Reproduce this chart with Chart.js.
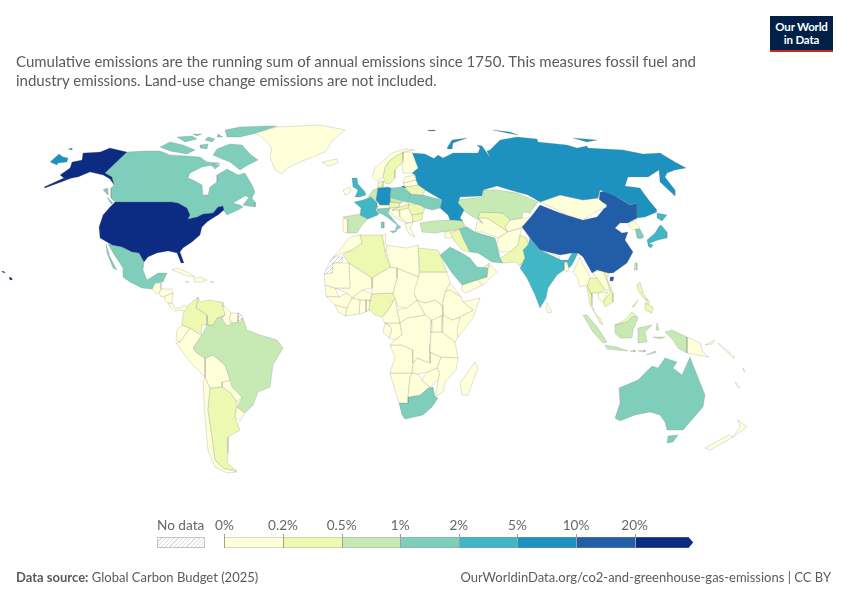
<!DOCTYPE html>
<html>
<head>
<meta charset="utf-8">
<title>Cumulative CO2 emissions</title>
<script src="https://cdn.jsdelivr.net/npm/chart.js@4"></script>
<style>
  body { margin: 0; background: #fff; font-family: Lato, sans-serif; color: #5b5b5b; }
  #wrap { position: relative; width: 850px; height: 600px; overflow: hidden; }
  #map { position: absolute; left: 0; top: 0; }
  .txt { position: absolute; white-space: nowrap; }
  #logo { position: absolute; left: 770px; top: 16px; width: 63px; height: 36px; background: #002147; border-bottom: 2px solid #ce261e; box-sizing: border-box;
    color: #fff; font-weight: 700; font-size: 11.5px; line-height: 13px; text-align: center; padding-top: 4px; letter-spacing: -0.2px; }
  .cell { position: absolute; top: 537px; height: 11px; box-sizing: border-box; border-top: 1px solid rgba(150,150,150,.35); border-bottom: 1px solid rgba(150,150,150,.35); }
  .tick { position: absolute; top: 534px; height: 14px; width: 1px; background: #a0a0a0; }
  .lab { position: absolute; top: 517px; font-size: 13.6px; transform: translateX(-50%); white-space: nowrap; color: #666; }
</style>
</head>
<body>
<div id="wrap">
  <canvas id="map" width="850" height="600"></canvas>
  <div id="logo">Our World<br>in Data</div>
  <div class="txt" style="left:16px;top:52px;font-size:15px;line-height:19px">Cumulative emissions are the running sum of annual emissions since 1750. This measures fossil fuel and<br>industry emissions. Land-use change emissions are not included.</div>
  <div class="txt" style="left:16px;top:569px;font-size:13px"><b>Data source:</b> Global Carbon Budget (2025)</div>
  <div class="txt" style="right:19px;top:569px;font-size:13px">OurWorldinData.org/co2-and-greenhouse-gas-emissions | CC BY</div>
  <div class="txt" style="left:157px;top:517px;font-size:13.6px;color:#666">No data</div>
  <div style="position:absolute;left:157px;top:537px;width:48px;height:11px;box-sizing:border-box;border:1px solid #c4c4c4;background:repeating-linear-gradient(135deg,#fff 0 2px,#dcdcdc 2px 3px)"></div>
</div>
<script>
// legend bins
const tickLabels = ['0%', '0.2%', '0.5%', '1%', '2%', '5%', '10%', '20%'];
const binStarts = [0, 0.2, 0.5, 1, 2, 5, 10, 20];
const binColors = ['#ffffd9', '#edf8b1', '#c7e9b4', '#7fcdbb', '#41b6c4', '#1d91c0', '#225ea8', '#0c2c84'];

const countries = ['United States', 'Canada', 'Mexico', 'Greenland', 'Iceland', 'Guatemala', 'Honduras', 'Nicaragua', 'Panama', 'Cuba', 'Hispaniola', 'Jamaica', 'Puerto Rico',
  'Colombia', 'Venezuela', 'Guyana', 'Suriname', 'French Guiana', 'Brazil', 'Ecuador', 'Peru', 'Bolivia', 'Paraguay', 'Uruguay', 'Argentina', 'Chile',
  'Morocco', 'Western Sahara', 'Algeria', 'Tunisia', 'Libya', 'Egypt', 'Sudan', 'Mauritania', 'Mali', 'Niger', 'Chad', 'Nigeria', 'Senegal', 'Guinea', 'Liberia', 'Ivory Coast', 'Burkina Faso', 'Ghana', 'Benin',
  'Cameroon', 'Central African Rep.', 'South Sudan', 'Ethiopia', 'Somalia', 'Eritrea', 'Kenya', 'Uganda', 'Tanzania', 'DR Congo', 'Congo', 'Gabon', 'Angola', 'Zambia', 'Mozambique', 'Zimbabwe', 'Botswana', 'Namibia', 'South Africa', 'Lesotho', 'Madagascar',
  'United Kingdom', 'Ireland', 'France', 'Spain', 'Portugal', 'Germany', 'Benelux', 'Poland', 'Czechia', 'Austria', 'Italy', 'Switzerland', 'Denmark', 'Norway', 'Sweden', 'Finland', 'Estonia', 'Lithuania', 'Belarus', 'Ukraine', 'Slovakia', 'Hungary', 'Romania', 'Bulgaria', 'Serbia', 'Croatia', 'Greece', 'Turkey',
  'Russia', 'Kazakhstan', 'Mongolia', 'China', 'India', 'Nepal', 'Bangladesh', 'Sri Lanka', 'Pakistan', 'Afghanistan', 'Iran', 'Iraq', 'Syria', 'Saudi Arabia', 'Yemen', 'Oman', 'UAE', 'Uzbekistan', 'Turkmenistan', 'Kyrgyzstan', 'Azerbaijan',
  'North Korea', 'South Korea', 'Japan', 'Taiwan', 'Myanmar', 'Thailand', 'Laos', 'Vietnam', 'Cambodia', 'Malaysia', 'Indonesia', 'Philippines', 'Papua New Guinea', 'Australia', 'New Zealand', 'Pacific islands'];

// share of global cumulative CO2, %
const shares = [24.3, 1.9, 1.3, 0.01, 0.02, 0.03, 0.03, 0.02, 0.03, 0.15, 0.1, 0.03, 0.1,
  0.2, 0.45, 0.02, 0.02, null, 0.7, 0.08, 0.12, 0.05, 0.02, 0.03, 0.4, 0.18,
  0.12, null, 0.27, 0.06, 0.15, 0.25, 0.04, 0.01, 0.01, 0.01, 0.01, 0.22, 0.02, 0.01, 0.01, 0.02, 0.01, 0.03, 0.01,
  0.02, 0.01, 0.01, 0.02, 0.01, 0.01, 0.03, 0.01, 0.02, 0.03, 0.01, 0.02, 0.05, 0.03, 0.02, 0.06, 0.02, 0.01, 1.3, 0.01, 0.01,
  4.5, 0.1, 2.2, 0.95, 0.1, 5.2, 0.8, 1.6, 0.8, 0.25, 1.4, 0.1, 0.2, 0.15, 0.3, 0.15, 0.08, 0.1, 0.3, 1.5, 0.15, 0.2, 0.35, 0.2, 0.15, 0.1, 0.15, 0.7,
  6.6, 0.9, 0.05, 14.8, 3.2, 0.01, 0.08, 0.02, 0.3, 0.02, 1.1, 0.35, 0.1, 1.2, 0.03, 0.1, 0.22, 0.25, 0.18, 0.04, 0.3,
  0.18, 1.1, 3.7, 0.7, 0.05, 0.4, 0.01, 0.4, 0.01, 0.3, 0.85, 0.2, 0.02, 1.2, 0.1, 0.01];

// map outlines, one line per country in the same order in map units
const outlines = [
  /* United States */ [[[115,202],[172,202],[178,203],[187,208],[190,215],[188,219],[197,217],[203,214],[213,213],[218,207],[223,206],[224,210],[218,215],[213,218],[207,222],[202,227],[200,235],[192,242],[183,248],[180,252],[184,263],[181,263],[177,253],[168,251],[157,253],[148,257],[144,262],[139,253],[132,252],[122,247],[112,245],[100,238],[99,227],[103,215],[110,207]],
    [[127,152],[105,173],[112,177],[114,185],[110,179],[103,175],[90,172],[78,177],[65,179],[60,175],[70,168],[72,162],[82,160],[83,153],[100,152],[110,148]], [[88,172],[72,178],[45,188],[44,187],[66,177]], [[9,277],[12,278],[12,280],[10,280]], [[2,271],[5,272],[5,273],[2,272]]],
  /* Canada */ [[[127,152],[105,173],[112,177],[114,185],[111,188],[111,198],[115,202],[172,202],[178,203],[187,208],[190,215],[188,219],[197,217],[203,214],[213,213],[218,207],[223,206],[224,211],[227,215],[238,210],[243,207],[240,205],[233,203],[245,196],[252,198],[255,192],[252,185],[245,173],[238,175],[227,169],[217,175],[217,182],[210,187],[208,195],[203,195],[202,185],[193,180],[188,178],[190,173],[202,167],[213,165],[220,163],[207,162],[200,157],[187,156],[170,155],[160,151],[145,151]],
    [[243,205],[250,196],[256,203],[255,207],[248,206]], [[103,190],[107,188],[108,195]], [[107,197],[113,203],[111,204]], [[217,149],[230,144],[242,145],[250,154],[258,160],[248,165],[240,170],[230,162],[222,159],[213,155]], [[160,147],[170,142],[183,145],[195,150],[187,154],[170,151]], [[225,130],[240,127],[268,126],[277,126],[253,134],[240,137],[227,137]], [[177,137],[192,136],[197,139],[185,142]], [[200,145],[208,144],[207,149],[200,148]], [[208,137],[215,139],[212,142],[205,140]], [[218,134],[223,137],[217,137]], [[193,134],[202,134],[197,136]], [[210,164],[220,165],[215,169]]],
  /* Mexico */ [[[112,245],[122,247],[132,252],[139,253],[144,262],[143,270],[147,280],[158,273],[167,273],[163,282],[155,283],[152,289],[142,288],[130,282],[123,277],[123,268],[115,256],[108,244]], [[106,244],[110,257],[117,270],[113,268],[107,253]]],
  /* Greenland */ [[[255,133],[277,127],[320,125],[345,130],[333,140],[325,152],[300,162],[287,168],[282,174],[275,170],[270,157],[272,148],[263,138]]],
  /* Iceland */ [[[322,162],[337,159],[338,163],[328,166]]],
  /* Guatemala */ [[[152,289],[157,283],[161,283],[161,289],[159,293],[156,294]]],
  /* Honduras */ [[[159,293],[161,289],[172,289],[173,293],[165,296],[161,297]]],
  /* Nicaragua */ [[[165,296],[173,293],[172,303],[168,303],[164,299]]],
  /* Panama */ [[[168,303],[172,303],[175,308],[180,308],[184,305],[188,308],[185,311],[180,310],[175,311],[170,307]]],
  /* Cuba */ [[[172,270],[177,268],[187,272],[195,277],[188,276],[180,273]]],
  /* Hispaniola */ [[[194,279],[200,277],[207,280],[202,282],[194,282]]],
  /* Jamaica */ [[[185,281],[189,282],[187,283]]],
  /* Puerto Rico */ [[[210,281],[214,282],[212,283]]],
  /* Colombia */ [[[185,308],[198,297],[196,308],[207,315],[207,325],[202,325],[201,335],[198,333],[190,328],[182,325],[183,315]]],
  /* Venezuela */ [[[198,297],[200,302],[208,300],[222,302],[223,307],[225,315],[217,318],[213,325],[208,325],[207,315],[196,308]]],
  /* Guyana */ [[[222,307],[225,306],[231,313],[229,318],[231,325],[226,325],[222,318],[225,315]]],
  /* Suriname */ [[[231,313],[238,313],[238,322],[233,323],[229,318]]],
  /* French Guiana */ [[[238,313],[243,316],[240,323],[238,322]]],
  /* Brazil */ [[[207,325],[213,325],[217,318],[225,315],[228,323],[237,322],[243,318],[247,330],[260,335],[277,340],[283,348],[273,365],[270,387],[258,392],[253,405],[245,413],[237,407],[242,397],[232,387],[225,365],[213,355],[205,358],[197,353],[193,348],[202,335]]],
  /* Ecuador */ [[[182,325],[190,328],[180,342],[176,340],[177,330]]],
  /* Peru */ [[[190,328],[198,333],[202,335],[193,348],[197,353],[205,358],[205,377],[190,362],[176,343],[180,342]]],
  /* Bolivia */ [[[205,358],[213,355],[225,365],[232,380],[222,382],[222,387],[210,388],[205,377]]],
  /* Paraguay */ [[[222,382],[232,380],[242,397],[237,402],[230,392],[222,387]]],
  /* Uruguay */ [[[237,407],[245,413],[240,421],[235,417]]],
  /* Argentina */ [[[210,388],[222,387],[230,392],[237,402],[235,417],[240,430],[228,437],[228,453],[227,463],[237,471],[223,468],[215,460],[212,437],[208,410]]],
  /* Chile */ [[[205,377],[210,388],[208,410],[212,437],[215,460],[223,468],[237,472],[227,473],[215,467],[208,450],[205,417],[203,383]]],
  /* Morocco */ [[[350,237],[360,235],[362,243],[352,250],[343,253],[333,257],[340,250],[345,243]]],
  /* Western Sahara */ [[[333,257],[343,257],[342,262],[333,263],[332,273],[324,274],[327,267]]],
  /* Algeria */ [[[360,235],[382,235],[385,252],[390,267],[372,278],[349,263],[343,255],[352,250],[362,243]]],
  /* Tunisia */ [[[382,235],[386,234],[385,243],[387,247],[385,252]]],
  /* Libya */ [[[385,245],[400,247],[407,248],[418,245],[419,277],[397,268],[390,267]]],
  /* Egypt */ [[[418,248],[438,250],[447,272],[420,272]]],
  /* Sudan */ [[[420,272],[447,272],[450,283],[445,292],[442,305],[435,300],[425,303],[417,300],[414,293],[418,278]]],
  /* Mauritania */ [[[324,274],[332,273],[333,263],[349,263],[350,288],[335,288],[325,285]]],
  /* Mali */ [[[349,263],[372,278],[372,288],[362,290],[352,298],[347,293],[335,288],[350,288]]],
  /* Niger */ [[[372,278],[390,267],[397,268],[397,278],[393,293],[372,294],[372,288]]],
  /* Chad */ [[[397,268],[419,277],[418,287],[414,293],[417,300],[407,308],[398,307],[393,293],[397,278]]],
  /* Nigeria */ [[[372,294],[393,293],[395,298],[388,310],[382,317],[375,315],[369,310],[370,302]]],
  /* Senegal */ [[[325,285],[335,288],[339,297],[326,296]]],
  /* Guinea */ [[[326,296],[339,297],[347,293],[352,298],[347,308],[335,305]]],
  /* Liberia */ [[[335,305],[347,308],[345,316],[338,312]]],
  /* Ivory Coast */ [[[347,308],[352,298],[360,300],[359,314],[345,316]]],
  /* Burkina Faso */ [[[352,298],[362,290],[372,294],[370,300],[360,300]]],
  /* Ghana */ [[[360,300],[366,300],[366,312],[359,314]]],
  /* Benin */ [[[366,300],[370,300],[370,302],[369,310],[366,312]]],
  /* Cameroon */ [[[388,310],[395,298],[397,310],[400,323],[385,323],[382,318]]],
  /* Central African Rep. */ [[[397,310],[407,308],[417,300],[425,315],[407,318],[400,323]]],
  /* South Sudan */ [[[417,300],[425,303],[435,300],[442,305],[443,315],[432,320],[425,315]]],
  /* Ethiopia */ [[[442,305],[445,292],[450,290],[461,297],[463,302],[473,310],[460,317],[452,320],[443,315]]],
  /* Somalia */ [[[463,302],[480,298],[473,318],[458,337],[457,330],[460,317],[473,310]]],
  /* Eritrea */ [[[445,292],[450,283],[461,297],[450,290]]],
  /* Kenya */ [[[443,315],[452,320],[460,317],[458,337],[455,342],[442,332]]],
  /* Uganda */ [[[432,320],[443,315],[442,332],[431,332]]],
  /* Tanzania */ [[[431,332],[442,332],[455,342],[458,358],[441,357],[430,352]]],
  /* DR Congo */ [[[407,318],[425,315],[432,320],[431,332],[430,345],[430,352],[430,363],[417,358],[413,363],[413,350],[402,345],[390,345],[395,340],[402,335],[400,323]]],
  /* Congo */ [[[400,323],[402,335],[395,340],[389,338],[392,330],[389,325],[385,323]]],
  /* Gabon */ [[[385,323],[389,325],[392,330],[389,338],[383,332]]],
  /* Angola */ [[[390,345],[402,345],[413,350],[413,363],[412,373],[400,373],[390,373],[395,357]]],
  /* Zambia */ [[[413,363],[417,358],[430,363],[430,352],[441,357],[437,368],[427,372],[418,374],[412,373]]],
  /* Mozambique */ [[[441,357],[458,358],[456,370],[445,382],[443,392],[435,397],[437,387],[438,380],[440,373],[437,368]]],
  /* Zimbabwe */ [[[427,372],[437,368],[440,373],[438,380],[430,387],[422,380]]],
  /* Botswana */ [[[412,373],[418,374],[422,380],[430,387],[428,388],[420,395],[408,397],[410,377]]],
  /* Namibia */ [[[390,373],[412,373],[410,377],[408,397],[408,403],[399,403],[395,390]]],
  /* South Africa */ [[[399,403],[408,403],[408,397],[420,395],[428,388],[433,387],[435,397],[438,398],[432,407],[423,415],[405,419],[402,415]]],
  /* Lesotho */ [[[423,407],[428,404],[428,408],[424,409]]],
  /* Madagascar */ [[[475,362],[478,368],[468,395],[462,395],[460,383],[468,372]]],
  /* United Kingdom */ [[[352,178],[357,178],[358,184],[365,192],[366,195],[360,197],[355,197],[358,190],[353,187]]],
  /* Ireland */ [[[343,190],[350,187],[351,192],[345,195]]],
  /* France */ [[[354,202],[363,200],[371,197],[377,203],[377,207],[376,210],[378,215],[368,219],[360,215],[361,208]]],
  /* Spain */ [[[343,217],[360,214],[368,219],[362,225],[357,233],[348,233],[348,220]]],
  /* Portugal */ [[[343,218],[348,218],[348,233],[343,232]]],
  /* Germany */ [[[378,188],[388,187],[391,188],[390,197],[390,202],[389,205],[380,205],[376,200]]],
  /* Benelux */ [[[368,197],[373,190],[378,188],[376,200],[377,203],[371,197]]],
  /* Poland */ [[[391,188],[403,187],[410,193],[410,194],[408,202],[403,201],[390,197]]],
  /* Czechia */ [[[390,197],[403,201],[400,203],[390,202]]],
  /* Austria */ [[[389,205],[390,202],[400,203],[399,207],[390,208]]],
  /* Italy */ [[[377,209],[390,208],[388,213],[398,225],[401,227],[395,231],[397,225],[387,217],[380,213],[377,215]], [[390,231],[397,231],[393,233]], [[381,222],[384,222],[384,228],[381,228]]],
  /* Switzerland */ [[[380,205],[389,205],[390,208],[377,209],[377,207]]],
  /* Denmark */ [[[378,182],[383,181],[383,187],[378,188]]],
  /* Norway */ [[[372,177],[375,168],[392,153],[405,149],[415,150],[403,152],[390,160],[385,167],[383,177],[377,181]]],
  /* Sweden */ [[[385,168],[390,160],[403,152],[403,162],[395,170],[395,178],[390,184],[385,183],[383,177]]],
  /* Finland */ [[[403,152],[412,152],[418,168],[412,173],[403,173],[402,165]]],
  /* Estonia */ [[[405,177],[415,175],[416,180],[403,183]]],
  /* Lithuania */ [[[403,183],[416,180],[418,185],[405,187]]],
  /* Belarus */ [[[405,187],[418,185],[425,190],[423,195],[410,194]]],
  /* Ukraine */ [[[410,194],[423,195],[442,200],[440,208],[432,210],[425,208],[420,205],[408,202]]],
  /* Slovakia */ [[[400,203],[408,202],[409,204],[403,206],[399,207]]],
  /* Hungary */ [[[399,207],[403,206],[409,204],[408,208],[400,210],[392,210]]],
  /* Romania */ [[[409,204],[420,205],[425,208],[423,213],[412,215],[408,208]]],
  /* Bulgaria */ [[[412,215],[423,213],[422,220],[413,222]]],
  /* Serbia */ [[[400,210],[408,208],[412,215],[413,222],[407,223],[400,217]]],
  /* Croatia */ [[[390,208],[399,207],[392,210],[400,210],[400,217],[407,223],[405,223],[395,217],[389,211]]],
  /* Greece */ [[[405,224],[413,222],[410,228],[415,237],[410,235],[407,230]]],
  /* Turkey */ [[[420,223],[433,221],[450,220],[462,221],[464,228],[448,231],[435,233],[422,232]]],
  /* Russia */ [[[416,165],[412,153],[425,154],[435,159],[433,162],[426,165],[438,155],[443,158],[453,153],[478,153],[480,148],[477,145],[482,146],[487,153],[490,158],[487,151],[490,150],[500,140],[517,137],[537,139],[538,142],[567,145],[577,148],[587,146],[588,148],[623,150],[643,154],[660,153],[675,162],[686,168],[675,170],[667,173],[665,177],[675,190],[675,196],[660,182],[659,170],[648,177],[628,177],[625,186],[640,188],[657,212],[645,217],[637,218],[637,203],[630,205],[617,197],[600,190],[598,198],[583,200],[560,195],[540,202],[528,195],[510,190],[497,186],[483,190],[482,196],[460,197],[458,203],[464,210],[460,218],[463,221],[450,220],[448,215],[440,208],[442,200],[425,190],[418,185],[416,180],[415,175],[412,173],[418,168]],
    [[50,162],[59,154],[63,157],[68,158],[67,162],[58,163],[57,165]], [[68,149],[72,148],[72,150]], [[447,148],[452,140],[467,138],[453,143],[452,149],[448,149]], [[427,130],[435,130],[435,131],[430,131]], [[493,130],[507,133],[518,135],[510,132]], [[573,138],[597,140],[587,142]], [[640,190],[657,210],[655,212],[642,193]], [[402,186],[408,186],[408,188],[402,188]]],
  /* Kazakhstan */ [[[458,200],[483,197],[483,190],[497,190],[517,193],[538,202],[530,213],[523,212],[522,218],[510,220],[503,213],[480,212],[478,218],[483,223],[470,215],[460,208]]],
  /* Mongolia */ [[[540,202],[560,195],[583,200],[598,198],[607,207],[595,212],[583,220],[567,215],[553,208]]],
  /* China */ [[[522,227],[530,218],[540,205],[560,213],[583,220],[597,217],[607,205],[599,200],[600,192],[613,190],[617,197],[630,205],[637,203],[637,218],[628,223],[620,223],[615,228],[622,233],[628,232],[625,240],[633,252],[627,263],[613,273],[608,273],[597,270],[592,273],[583,257],[578,253],[572,253],[560,255],[540,250],[530,238]], [[610,277],[614,277],[613,281],[610,281]]],
  /* India */ [[[530,238],[540,250],[561,260],[568,260],[572,253],[578,253],[572,265],[569,268],[567,262],[564,262],[564,270],[557,275],[548,288],[546,298],[540,308],[535,295],[527,278],[520,268],[525,258],[523,250],[528,245]]],
  /* Nepal */ [[[542,250],[560,257],[559,260],[543,254]]],
  /* Bangladesh */ [[[565,262],[569,268],[567,272],[564,270]]],
  /* Sri Lanka */ [[[547,303],[552,312],[548,313],[546,308]]],
  /* Pakistan */ [[[520,235],[527,238],[528,245],[525,258],[520,266],[515,262],[503,263],[500,258],[510,252],[518,245]]],
  /* Afghanistan */ [[[498,238],[508,232],[522,228],[520,235],[518,245],[510,252],[500,252],[497,245]]],
  /* Iran */ [[[459,228],[467,227],[475,232],[495,238],[497,245],[500,258],[503,263],[492,262],[478,253],[470,252],[463,238]]],
  /* Iraq */ [[[450,233],[460,229],[463,238],[470,252],[462,250],[455,242]]],
  /* Syria */ [[[445,232],[458,230],[452,238],[445,238]]],
  /* Saudi Arabia */ [[[440,255],[450,247],[460,252],[470,258],[477,267],[488,268],[487,277],[477,280],[462,285],[452,273]]],
  /* Yemen */ [[[462,285],[477,280],[483,285],[465,293],[462,290]]],
  /* Oman */ [[[477,280],[487,277],[488,268],[490,265],[497,272],[483,285]]],
  /* UAE */ [[[482,268],[490,263],[488,269]]],
  /* Uzbekistan */ [[[480,212],[503,213],[510,220],[505,227],[508,232],[498,225],[487,218],[478,218]]],
  /* Turkmenistan */ [[[477,222],[483,223],[478,218],[487,218],[498,225],[508,232],[498,238],[483,232],[475,232]]],
  /* Kyrgyzstan */ [[[510,220],[522,218],[530,218],[522,227],[508,232],[505,227]]],
  /* Azerbaijan */ [[[450,222],[463,222],[466,227],[459,228],[450,226]]],
  /* North Korea */ [[[637,218],[628,225],[633,230],[640,228],[635,222]]],
  /* South Korea */ [[[635,228],[640,229],[644,237],[640,239],[637,238]]],
  /* Japan */ [[[662,226],[667,232],[667,238],[658,240],[648,244],[647,240],[655,233],[660,225]], [[657,213],[667,215],[662,221],[657,218]], [[648,243],[653,245],[651,248],[648,246]]],
  /* Taiwan */ [[[635,263],[637,263],[637,270],[634,270]]],
  /* Myanmar */ [[[573,272],[580,257],[583,265],[588,272],[590,278],[587,287],[592,295],[587,285],[580,287],[577,277]]],
  /* Thailand */ [[[590,278],[597,278],[605,290],[598,293],[592,293],[592,305],[596,315],[590,305],[587,287]]],
  /* Laos */ [[[593,272],[603,270],[610,290],[605,290],[597,280]]],
  /* Vietnam */ [[[603,270],[610,272],[607,278],[613,293],[613,302],[605,307],[603,302],[610,293],[610,290]]],
  /* Cambodia */ [[[598,293],[608,292],[603,302],[598,298]]],
  /* Malaysia */ [[[596,315],[600,318],[603,325],[600,323]], [[615,325],[625,320],[632,312],[638,317],[633,316],[627,322]]],
  /* Indonesia */ [[[583,315],[587,315],[598,328],[607,342],[603,343],[593,332]], [[605,345],[617,347],[628,351],[617,350],[607,349]], [[615,325],[627,322],[633,316],[638,318],[633,330],[632,338],[620,338],[615,333]], [[638,328],[652,325],[645,332],[647,342],[638,343],[638,335]], [[665,332],[672,330],[687,337],[687,353],[678,348],[673,340]], [[630,351],[635,350],[635,352]], [[638,351],[645,350],[645,352]], [[646,355],[655,351],[655,353]], [[657,323],[659,330],[656,330]], [[653,337],[665,337],[660,339]]],
  /* Philippines */ [[[640,282],[643,293],[648,300],[643,298],[638,290],[637,285]], [[645,303],[653,307],[652,313],[645,310]], [[632,307],[638,300],[637,302],[634,307]], [[645,298],[650,302],[648,305]]],
  /* Papua New Guinea */ [[[687,337],[700,343],[703,352],[709,357],[697,355],[687,353]], [[705,345],[715,340],[712,344]], [[718,343],[735,357],[733,358]]],
  /* Australia */ [[[615,418],[620,403],[619,388],[638,380],[652,366],[658,368],[665,358],[677,362],[673,368],[682,375],[690,357],[695,370],[705,395],[703,407],[683,430],[667,430],[665,422],[660,415],[650,412],[635,415],[620,421]], [[668,436],[678,435],[673,442],[667,443]]],
  /* New Zealand */ [[[738,420],[747,427],[733,437],[740,427]], [[729,435],[733,437],[710,450],[705,448]]],
  /* Pacific islands */ [[[735,382],[740,387],[738,388]], [[743,368],[745,372],[744,372]]]
];

function binColor(v) {
  let c = binColors[0];
  binStarts.forEach(function(b, i) { if (v >= b) c = binColors[i]; });
  return c;
}

// hatching for countries without data
function hatch() {
  const c = document.createElement('canvas');
  c.width = 4; c.height = 4;
  const g = c.getContext('2d');
  g.fillStyle = '#fff'; g.fillRect(0, 0, 4, 4);
  g.strokeStyle = '#d4d4d4'; g.lineWidth = 1;
  g.beginPath(); g.moveTo(0, 4); g.lineTo(4, 0); g.stroke();
  return g.createPattern(c, 'repeat');
}
const noData = hatch();

const datasets = [];
countries.forEach(function(name, i) {
  outlines[i].forEach(function(ring) {
    const pts = ring.concat([ring[0]]).map(function(p) { return {x: p[0], y: p[1]}; });
    datasets.push({
      label: name,
      data: pts,
      showLine: true,
      pointRadius: 0,
      tension: 0,
      borderWidth: 0.5,
      borderColor: 'rgba(120,120,120,0.45)',
      backgroundColor: shares[i] === null ? noData : binColor(shares[i])
    });
  });
});

// Chart.js does not close a scatter line into a shape, so fill it here from the placed points
const ringFill = {
  id: 'ringFill',
  beforeDatasetDraw(chart, args) {
    const ctx = chart.ctx;
    const pts = args.meta.data;
    ctx.save();
    ctx.beginPath();
    pts.forEach(function(p, i) { i ? ctx.lineTo(p.x, p.y) : ctx.moveTo(p.x, p.y); });
    ctx.closePath();
    ctx.fillStyle = chart.data.datasets[args.index].backgroundColor;
    ctx.fill();
    ctx.restore();
  }
};

new Chart('map', {
  type: 'scatter',
  data: {datasets: datasets},
  plugins: [ringFill],
  options: {
    responsive: false,
    animation: false,
    layout: {padding: 0},
    plugins: {legend: {display: false}, tooltip: {enabled: false}},
    scales: {
      x: {type: 'linear', min: 0, max: 850, display: false},
      y: {type: 'linear', min: 0, max: 600, reverse: true, display: false}
    }
  }
});

// colour legend
const wrap = document.getElementById('wrap');
const left = 224.4, cellW = 58.6;
binColors.forEach(function(col, i) {
  const cell = document.createElement('div');
  cell.className = 'cell';
  cell.style.left = (left + i * cellW) + 'px';
  cell.style.width = cellW + 'px';
  cell.style.background = col;
  if (i === binColors.length - 1) cell.style.clipPath = 'polygon(0 0, 92% 0, 100% 50%, 92% 100%, 0 100%)';
  wrap.appendChild(cell);
  const tick = document.createElement('div');
  tick.className = 'tick';
  tick.style.left = (left + i * cellW) + 'px';
  wrap.appendChild(tick);
  const lab = document.createElement('div');
  lab.className = 'lab';
  lab.style.left = (left + i * cellW) + 'px';
  lab.textContent = tickLabels[i];
  wrap.appendChild(lab);
});
</script>
</body>
</html>
